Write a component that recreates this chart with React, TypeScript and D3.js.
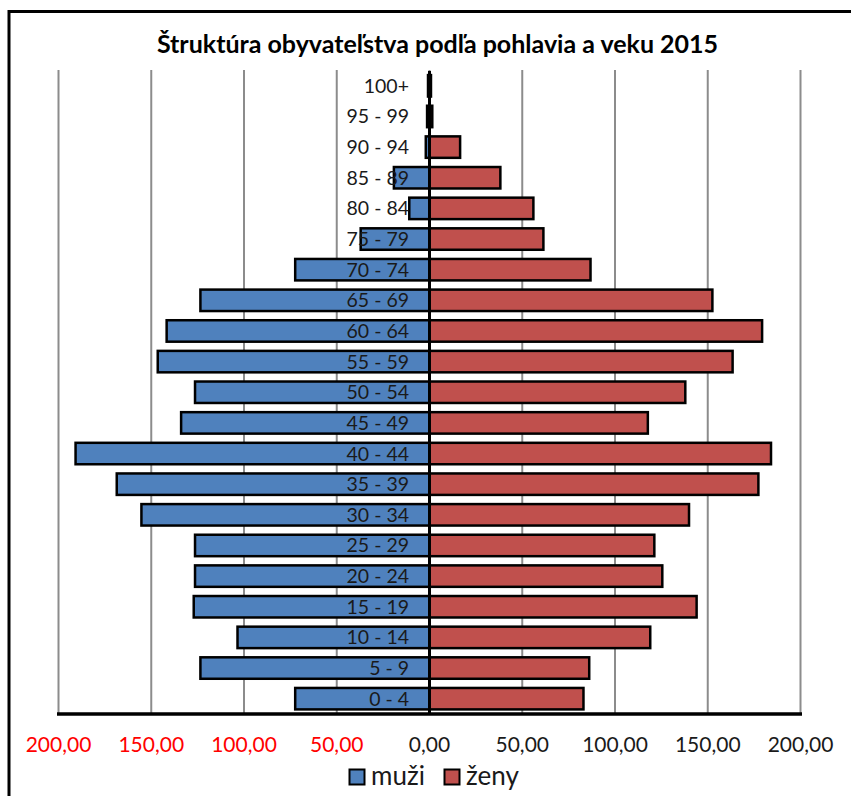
import React from "react";
import * as d3 from "d3";

const categories = ["0 - 4","5 - 9","10 - 14","15 - 19","20 - 24","25 - 29","30 - 34","35 - 39","40 - 44","45 - 49","50 - 54","55 - 59","60 - 64","65 - 69","70 - 74","75 - 79","80 - 84","85 - 89","90 - 94","95 - 99","100+"];
const muzi = [72.4,123.5,103.5,127.1,126.4,126.4,155.3,168.6,190.8,133.9,126.4,146.5,141.7,123.5,72.4,37.1,10.9,19.2,2.0,1.3,0.8];
const zeny = [83.0,86.1,119.0,144.0,125.5,121.2,139.9,177.3,184.1,117.7,137.9,163.4,179.3,152.5,86.8,61.4,56.0,38.2,16.5,1.5,0.8];
const ticks = [-200,-150,-100,-50,0,50,100,150,200];
const title = "Štruktúra obyvateľstva podľa pohlavia a veku 2015";
const seriesNames = ["muži","ženy"];
const colors = ["#4F81BD","#C0504D"];

const W = 851, H = 796;
const FONT = "Lato, 'Open Sans', sans-serif";

export default function App() {
  const x = d3.scaleLinear().domain([-200, 200]).range([58.5, 800.5]);
  const y = d3.scaleBand<string>()
    .domain([...categories].reverse())
    .range([70.5, 714])
    .paddingInner(0.3)
    .paddingOuter(0.15);
  const bw = y.bandwidth();
  const fmt = (v: number) => d3.format(".2f")(Math.abs(v)).replace(".", ",");
  const plotTop = 70;
  const plotBottom = 714;

  return (
    <svg width={W} height={H} style={{ position: "absolute", left: 0, top: 0, background: "#fff" }}>
      <rect x={0} y={0} width={W} height={H} fill="#fff" />
      <rect x={9} y={11.5} width={W + 20} height={H + 20} fill="none" stroke="#000" strokeWidth={3} />
      <text x={437.5} y={53} textAnchor="middle" fontFamily={FONT} fontWeight="bold" fontSize={25} fill="#000">{title}</text>
      {ticks.map((t) => (
        <line key={"g" + t} x1={x(t)} x2={x(t)} y1={plotTop} y2={plotBottom} stroke="#8c8c8c" strokeWidth={2} />
      ))}
      {categories.map((c, i) => (
        <g key={c}>
          <rect x={x(-muzi[i])} y={y(c)!} width={x(0) - x(-muzi[i])} height={bw} fill={colors[0]} stroke="#000" strokeWidth={2.5} />
          <rect x={x(0)} y={y(c)!} width={x(zeny[i]) - x(0)} height={bw} fill={colors[1]} stroke="#000" strokeWidth={2.5} />
        </g>
      ))}
      <line x1={x(0)} x2={x(0)} y1={plotTop + 1} y2={plotBottom} stroke="#000" strokeWidth={3} />
      <line x1={x(-200) - 1.5} x2={x(200) + 1.5} y1={plotBottom} y2={plotBottom} stroke="#000" strokeWidth={3.5} />
      {categories.map((c) => (
        <text key={"l" + c} x={409} y={y(c)! + bw / 2} dy="0.36em" textAnchor="end" fontFamily={FONT} fontSize={19.5} fill="#1a1a1a">{c}</text>
      ))}
      {ticks.map((t) => (
        <text key={"t" + t} x={x(t)} y={752} textAnchor="middle" fontFamily={FONT} fontSize={21} fill={t < 0 ? "#FF0000" : "#1a1a1a"}>{fmt(t)}</text>
      ))}
      <g>
        <rect x={349.5} y={769.5} width={15} height={15} fill={colors[0]} stroke="#000" strokeWidth={2} />
        <text x={371} y={785} fontFamily={FONT} fontSize={26} fill="#1a1a1a">{seriesNames[0]}</text>
        <rect x={444.5} y={769.5} width={15} height={15} fill={colors[1]} stroke="#000" strokeWidth={2} />
        <text x={466} y={785} fontFamily={FONT} fontSize={26} fill="#1a1a1a">{seriesNames[1]}</text>
      </g>
    </svg>
  );
}
